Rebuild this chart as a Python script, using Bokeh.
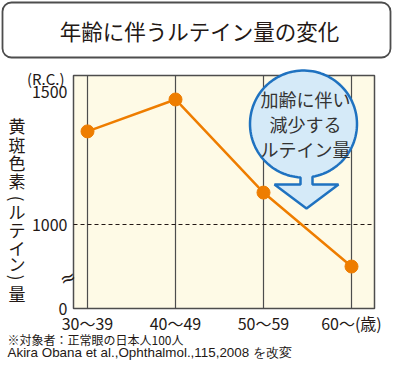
import numpy as np
from bokeh.plotting import figure
from bokeh.models import (Range1d, FixedTicker, Label, LabelSet, ColumnDataSource,
                          PolyAnnotation, BoxAnnotation)
from bokeh.core.properties import value
from bokeh.embed import file_html
from bokeh.resources import INLINE

# ---- data ----
age_groups = ["30～39", "40～49", "50～59", "60～(歳)"]
lutein = [1350, 1470, 1120, 842]
y_tick_labels = ["0", "1000", "1500"]
y_tick_real = [1000, 1500]
title = "年齢に伴うルテイン量の変化"
y_title_chars = ["黄", "斑", "色", "素", "(", "ル", "テ", "イ", "ン", ")", "量"]
callout_lines = ["加齢に伴い", "減少する", "ルテイン量"]
note1 = "※対象者：正常眼の日本人100人"
note2 = "Akira Obana et al.,Ophthalmol.,115,2008 を改変"

# ---- layout (pixel positions on the canvas) ----
W, H = 392, 362
FL, FR, FT, FB = 73, 374, 75, 308
SX0, DX = 87, 88
SY1000, PXU = 224, 133 / 500

def X(sx):
    return (sx - SX0) / DX

def Y(sy):
    return 1000 + (SY1000 - sy) / PXU

FONT = "Noto Sans CJK JP"
TXT = "#231815"
ORANGE = "#EE7D00"
GRID = "#4d4d4d"

base = Y(FB)
top = Y(FT)
p = figure(width=W, height=H, x_range=Range1d(X(0), X(W)), y_range=Range1d(Y(H), Y(0)),
           output_backend="svg", toolbar_location=None, min_border=0)
p.min_border_left = p.min_border_right = p.min_border_top = p.min_border_bottom = 0
p.background_fill_color = "white"
p.border_fill_color = "white"
p.outline_line_color = None
p.xgrid.visible = False
p.ygrid.visible = False

# plot area
p.add_layout(BoxAnnotation(left=X(FL), right=X(FR), top=top, bottom=base,
                           fill_color="#FEFAE6", fill_alpha=1, line_color=GRID, line_alpha=1,
                           line_width=1.5, level="underlay"))

xs = list(range(len(age_groups)))
xt = FixedTicker(ticks=xs)
p.xaxis.ticker = xt
p.xaxis.major_label_overrides = {i: lab for i, lab in enumerate(age_groups)}
p.xaxis.fixed_location = base

yt_vals = [base] + y_tick_real
p.yaxis.ticker = FixedTicker(ticks=yt_vals)
p.yaxis.major_label_overrides = {v: lab for v, lab in zip(yt_vals, y_tick_labels)}
p.yaxis.fixed_location = X(FL)

for ax, standoff in ((p.xaxis, 2), (p.yaxis, 6)):
    ax.axis_line_color = None
    ax.major_tick_line_color = None
    ax.minor_tick_line_color = None
    ax.major_tick_out = 0
    ax.major_tick_in = 0
    ax.minor_tick_out = 0
    ax.minor_tick_in = 0
    ax.major_label_text_font = FONT
    ax.major_label_text_font_size = "16px"
    ax.major_label_text_color = TXT
    ax.major_label_standoff = standoff

# vertical category lines
p.segment(x0=xs, x1=xs, y0=[base] * len(xs), y1=[top] * len(xs),
          line_color=GRID, line_width=1.2)
# dashed 1000 line
p.segment(x0=[X(FL)], x1=[X(FR)], y0=[1000], y1=[1000], line_color=TXT,
          line_dash="4 3", line_width=1)

src = ColumnDataSource(dict(x=xs, y=lutein))
p.line("x", "y", source=src, line_color=ORANGE, line_width=2.5)
p.scatter("x", "y", source=src, size=13, fill_color=ORANGE, line_color=ORANGE)

# axis break mark
p.add_layout(Label(x=X(67), y=Y(277), text="≈", text_align="center", text_baseline="middle",
                   text_font="DejaVu Sans", text_font_size="19px", text_color=TXT,
                   angle=0.35))

# (R.C.)
p.add_layout(Label(x=X(64), y=Y(78), text="(R.C.)", text_align="right", text_baseline="middle",
                   text_font=FONT, text_font_size="15px", text_color=TXT))

# vertical y title (brackets turned for vertical writing)
ych = [125, 143.5, 162, 180, 198, 211, 229, 247, 263, 277, 293]
angles = [-np.pi / 2 if c in "()" else 0.0 for c in y_title_chars]
ysrc = ColumnDataSource(dict(x=[X(16.5)] * len(y_title_chars), y=[Y(v) for v in ych],
                             t=y_title_chars, a=angles))
p.add_layout(LabelSet(x="x", y="y", text="t", angle="a", source=ysrc, text_align="center",
                      text_baseline="middle", text_font=value(FONT), text_font_size="17px",
                      text_color=TXT))

# title box
p.add_layout(BoxAnnotation(left=X(2), right=X(390), top=Y(2), bottom=Y(57),
                           fill_color="white", fill_alpha=1, line_color=GRID, line_alpha=1,
                           line_width=1.8, border_radius=9))
p.add_layout(Label(x=X(199), y=Y(30), text=title, text_align="center", text_baseline="middle",
                   text_font=FONT, text_font_size="21.5px", text_color=TXT))

# callout bubble with arrow
cx, cy, r = 303, 123.5, 53.5
ax_c, sw, hw, head_y, tip_y = 306, 6, 32, 184, 208
t_r = np.degrees(np.arccos((ax_c + sw - cx) / r))
t_l = np.degrees(np.arccos((ax_c - sw - cx) / r))
ts = np.radians(np.linspace(t_l, 360 + t_r, 120))
arc_x = list(cx + r * np.cos(ts))
arc_y = list(cy + r * np.sin(ts))
sx = [ax_c + sw, ax_c + hw, ax_c, ax_c - hw, ax_c - sw] + arc_x
sy = [head_y, head_y, tip_y, head_y, head_y] + arc_y
p.add_layout(PolyAnnotation(xs=[X(v) for v in sx], ys=[Y(v) for v in sy],
                            fill_color="#D5EAF8", fill_alpha=1, line_color="#1F72C0",
                            line_alpha=1, line_width=2.5))
for line, ly in zip(callout_lines, [98, 123, 148]):
    p.add_layout(Label(x=X(305), y=Y(ly), text=line, text_align="center", text_baseline="middle",
                       text_font=FONT, text_font_size="18px", text_color="#333333"))

# footnotes
p.add_layout(Label(x=X(7), y=Y(339), text=note1, text_align="left", text_baseline="middle",
                   text_font=FONT, text_font_size="12px", text_color=TXT))
p.add_layout(Label(x=X(7), y=Y(352), text=note2, text_align="left", text_baseline="middle",
                   text_font="Liberation Sans", text_font_size="13.4px", text_color=TXT))

open("out.html", "w").write(file_html(p, INLINE))
